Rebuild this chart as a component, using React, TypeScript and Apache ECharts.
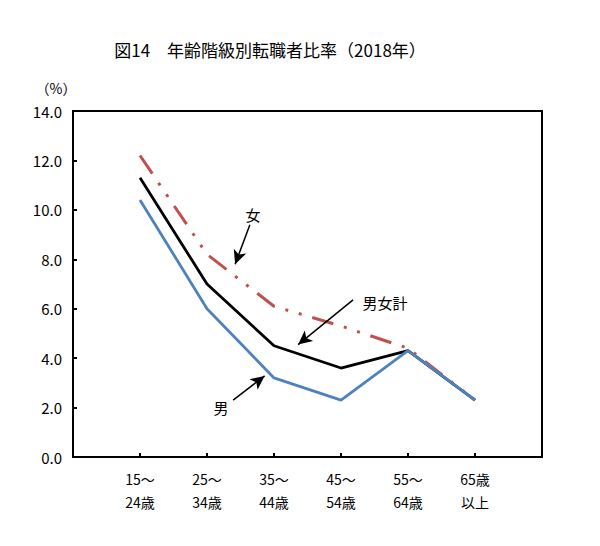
import React, { useEffect, useRef } from "react";
import * as echarts from "echarts";

const categories = ["15～\n24歳", "25～\n34歳", "35～\n44歳", "45～\n54歳", "55～\n64歳", "65歳\n以上"];
const totalValues = [11.3, 7.0, 4.5, 3.6, 4.3, 2.3];
const maleValues = [10.4, 6.0, 3.2, 2.3, 4.3, 2.3];
const femaleValues = [12.2, 8.2, 6.1, 5.3, 4.4, 2.3];
const yTicks = [0, 2, 4, 6, 8, 10, 12, 14];

const FONT = '"Noto Sans CJK JP", "Noto Sans", sans-serif';

function toPairs(values: number[]) {
  return values.map((v, i) => [i + 1, v]);
}

export default function App() {
  const ref = useRef<HTMLDivElement>(null);
  useEffect(() => {
    if (!ref.current) return;
    const chart = echarts.init(ref.current, null, { renderer: "svg" });
    const arrowLine = (from: number[], to: number[]) => [{ coord: from }, { coord: to }];
    chart.setOption({
      animation: false,
      backgroundColor: "#ffffff",
      title: {
        text: "図14　年齢階級別転職者比率（2018年）",
        left: 265,
        top: 36,
        textAlign: "center",
        textStyle: { fontFamily: FONT, fontSize: 17, fontWeight: "normal", color: "#000" },
      },
      grid: {
        left: 73,
        right: 58,
        top: 111,
        bottom: 89,
        show: true,
        borderColor: "#000",
        borderWidth: 2,
        backgroundColor: "transparent",
      },
      xAxis: {
        type: "value",
        min: 0,
        max: 7,
        interval: 1,
        axisLine: { show: true, lineStyle: { color: "#000", width: 2 } },
        axisTick: { show: true, inside: true, length: 4, lineStyle: { color: "#000", width: 2 } },
        splitLine: { show: false },
        axisLabel: {
          margin: 10,
          fontFamily: FONT,
          fontSize: 14,
          color: "#000",
          lineHeight: 23,
          formatter: (v: number) => (v >= 1 && v <= categories.length ? categories[v - 1] : ""),
        },
      },
      yAxis: {
        type: "value",
        min: yTicks[0],
        max: yTicks[yTicks.length - 1],
        interval: 2,
        name: "（%）",
        nameLocation: "end",
        nameGap: 16,
        nameTextStyle: { fontFamily: FONT, fontSize: 14, color: "#000", align: "center", padding: [0, 34, 0, 0] },
        axisLine: { show: true, lineStyle: { color: "#000", width: 2 } },
        axisTick: { show: true, inside: true, length: 4, lineStyle: { color: "#000", width: 2 } },
        splitLine: { show: false },
        axisLabel: {
          margin: 11,
          fontFamily: FONT,
          fontSize: 15,
          color: "#000",
          formatter: (v: number) => v.toFixed(1),
        },
      },
      series: [
        {
          name: "女",
          type: "line",
          data: toPairs(femaleValues),
          symbol: "none",
          lineStyle: { color: "#C0504D", width: 3, type: [22, 11, 3, 11, 3, 11] },
          z: 2,
        },
        {
          name: "男",
          type: "line",
          data: toPairs(maleValues),
          symbol: "none",
          lineStyle: { color: "#4F81BD", width: 2.8 },
          z: 3,
        },
        {
          name: "男女計",
          type: "line",
          data: toPairs(totalValues),
          symbol: "none",
          lineStyle: { color: "#000000", width: 2.8 },
          z: 1,
          markLine: {
            silent: true,
            symbol: ["none", "arrow"],
            symbolSize: [10, 14],
            label: { show: false },
            lineStyle: { color: "#000", width: 1.5, type: "solid" },
            data: [
              arrowLine([2.64, 9.4], [2.42, 7.8]),
              arrowLine([4.18, 6.36], [3.36, 4.55]),
              arrowLine([2.39, 2.3], [2.86, 3.28]),
            ],
          },
        },
      ],
      graphic: [
        {
          type: "text",
          x: 253,
          y: 214,
          style: { text: "女", font: `15px ${FONT}`, fill: "#000", align: "center", verticalAlign: "middle" },
        },
        {
          type: "text",
          x: 385,
          y: 302,
          style: { text: "男女計", font: `15px ${FONT}`, fill: "#000", align: "center", verticalAlign: "middle" },
        },
        {
          type: "text",
          x: 221,
          y: 407,
          style: { text: "男", font: `15px ${FONT}`, fill: "#000", align: "center", verticalAlign: "middle" },
        },
      ],
    });
    return () => chart.dispose();
  }, []);
  return <div ref={ref} style={{ width: 600, height: 546, margin: -8 }} />;
}
